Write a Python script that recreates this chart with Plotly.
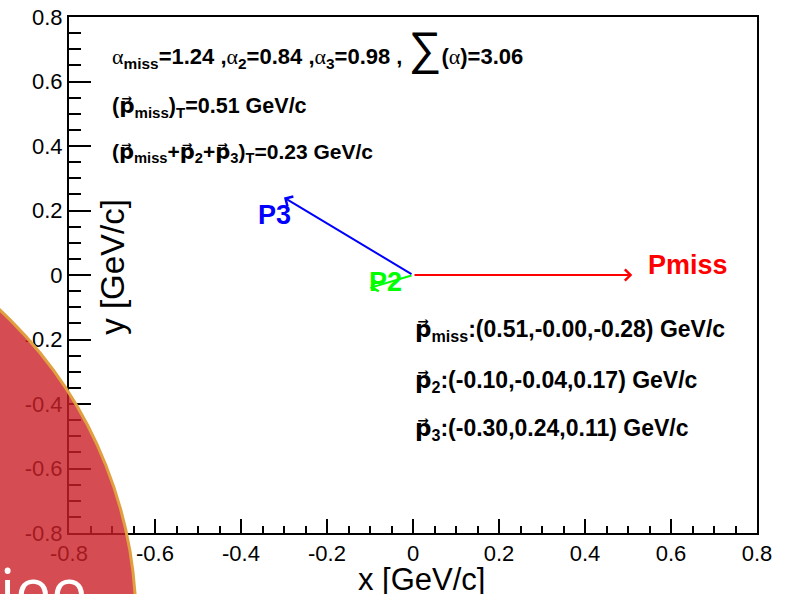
import plotly.graph_objects as go

# ---------------- data ----------------
names = ["Pmiss", "P2", "P3"]
sub_names = ["miss", "2", "3"]
colors = ["#ff0000", "#00ff00", "#0000ff"]
px_vals = [0.51, -0.10, -0.30]
py_vals = [-0.0, -0.04, 0.24]
pz_vals = [-0.28, 0.17, 0.11]
alphas = [1.24, 0.84, 0.98]
alpha_sum = 3.06
pT_miss = 0.51
pT_total = 0.23

tick_vals = [-0.8, -0.6, -0.4, -0.2, 0.0, 0.2, 0.4, 0.6, 0.8]
tick_text = ["-0.8", "-0.6", "-0.4", "-0.2", "0", "0.2", "0.4", "0.6", "0.8"]

# ---------------- figure ----------------
W, H = 797, 594
ML, MR, MT, MB = 69, 40, 17, 61
FONT = "Liberation Sans, Arial, Helvetica, sans-serif"

fig = go.Figure()
fig.add_trace(go.Scatter(x=[0], y=[0], mode="markers", marker=dict(size=0, opacity=0),
                         hoverinfo="skip", showlegend=False))

annotations = []

for n, c, x, y in zip(names, colors, px_vals, py_vals):
    annotations.append(dict(x=x, y=y, ax=0, ay=0, xref="x", yref="y", axref="x", ayref="y",
                            text="", showarrow=True, arrowhead=4, arrowsize=1.1,
                            arrowwidth=2, arrowcolor=c, standoff=0, startstandoff=0))

label_pos = {"Pmiss": (0.64, 0.03), "P2": (-0.065, -0.022), "P3": (-0.323, 0.186)}
for n, c in zip(names, colors):
    lx, ly = label_pos[n]
    annotations.append(dict(x=lx, y=ly, xref="x", yref="y", text=f"<b>{n}</b>", showarrow=False,
                            font=dict(family=FONT, size=27, color=c), xanchor="center", yanchor="middle"))

AL = "<span style='font-family:Liberation Serif, serif;font-weight:normal'>α</span>"
VP = "<span style='font-family:DejaVu Sans'>p\u20d7</span>"
line1 = (f"{AL}<sub>miss</sub>={alphas[0]:.2f} ,{AL}<sub>2</sub>={alphas[1]:.2f} ,"
         f"{AL}<sub>3</sub>={alphas[2]:.2f} , "
         f"<span style='font-size:46px;font-weight:normal'>∑</span>({AL})={alpha_sum:.2f}")
line2 = f"({VP}<sub>miss</sub>)<sub>T</sub>={pT_miss:.2f} GeV/c"
line3 = f"({VP}<sub>miss</sub>+{VP}<sub>2</sub>+{VP}<sub>3</sub>)<sub>T</sub>={pT_total:.2f} GeV/c"

for txt, yy, fs in zip([line1, line2, line3], [0.705, 0.521, 0.378], [22, 21.5, 21]):
    annotations.append(dict(x=-0.705, y=yy, xref="x", yref="y", text=f"<b>{txt}</b>", showarrow=False,
                            font=dict(family=FONT, size=fs, color="black"), xanchor="left", yanchor="middle"))

for s, x, y, z, yy in zip(sub_names, px_vals, py_vals, pz_vals, [-0.171, -0.329, -0.478]):
    txt = f"{VP}<sub>{s}</sub>:({x:.2f},{y:.2f},{z:.2f}) GeV/c"
    annotations.append(dict(x=0.0, y=yy, xref="x", yref="y", text=f"<b>{txt}</b>", showarrow=False,
                            font=dict(family=FONT, size=23, color="black"), xanchor="left", yanchor="middle"))

annotations.append(dict(x=0.512, y=-0.09, xref="paper", yref="paper", text="x [GeV/c]", showarrow=False,
                        font=dict(family=FONT, size=31, color="black"), xanchor="center", yanchor="middle"))
annotations.append(dict(x=0.064, y=0.516, xref="paper", yref="paper", text="y [GeV/c]", showarrow=False,
                        textangle=-90, font=dict(family=FONT, size=33, color="black"),
                        xanchor="center", yanchor="middle"))

annotations.append(dict(x=-0.103, y=-0.025, xref="paper", yref="paper", text="ioo", showarrow=False,
                        font=dict(family="Open Sans, sans-serif", size=60, color="white"),
                        xanchor="left", yanchor="top"))

axis_common = dict(range=[-0.8, 0.8], tickvals=tick_vals, ticktext=tick_text, ticks="inside",
                   showgrid=False, zeroline=False, showline=True, linecolor="black", linewidth=2,
                   mirror=True, tickcolor="black", tickwidth=2, automargin=False)

fig.update_layout(
    width=W, height=H, autosize=False,
    margin=dict(l=ML, r=MR, t=MT, b=MB, pad=0, autoexpand=False),
    paper_bgcolor="white", plot_bgcolor="white",
    showlegend=False,
    xaxis=dict(**axis_common, ticklen=14, tickfont=dict(family=FONT, size=22, color="black"),
               minor=dict(dtick=0.05, ticks="inside", ticklen=7, tickcolor="black", tickwidth=1.5)),
    yaxis=dict(**axis_common, ticklen=22, tickfont=dict(family=FONT, size=22, color="black"),
               minor=dict(dtick=0.05, ticks="inside", ticklen=12, tickcolor="black", tickwidth=1.5)),
    annotations=annotations,
    shapes=[dict(type="circle", xref="paper", yref="paper", x0=-1.147, x1=0.0974, y0=-1.004, y1=0.655,
                 fillcolor="rgba(202,32,40,0.8)", line=dict(color="#e0a040", width=3), layer="above")],
)

fig.write_html("out.html", config={"displayModeBar": False},
               post_script="document.body.style.margin='0';document.body.style.overflow='hidden';")
